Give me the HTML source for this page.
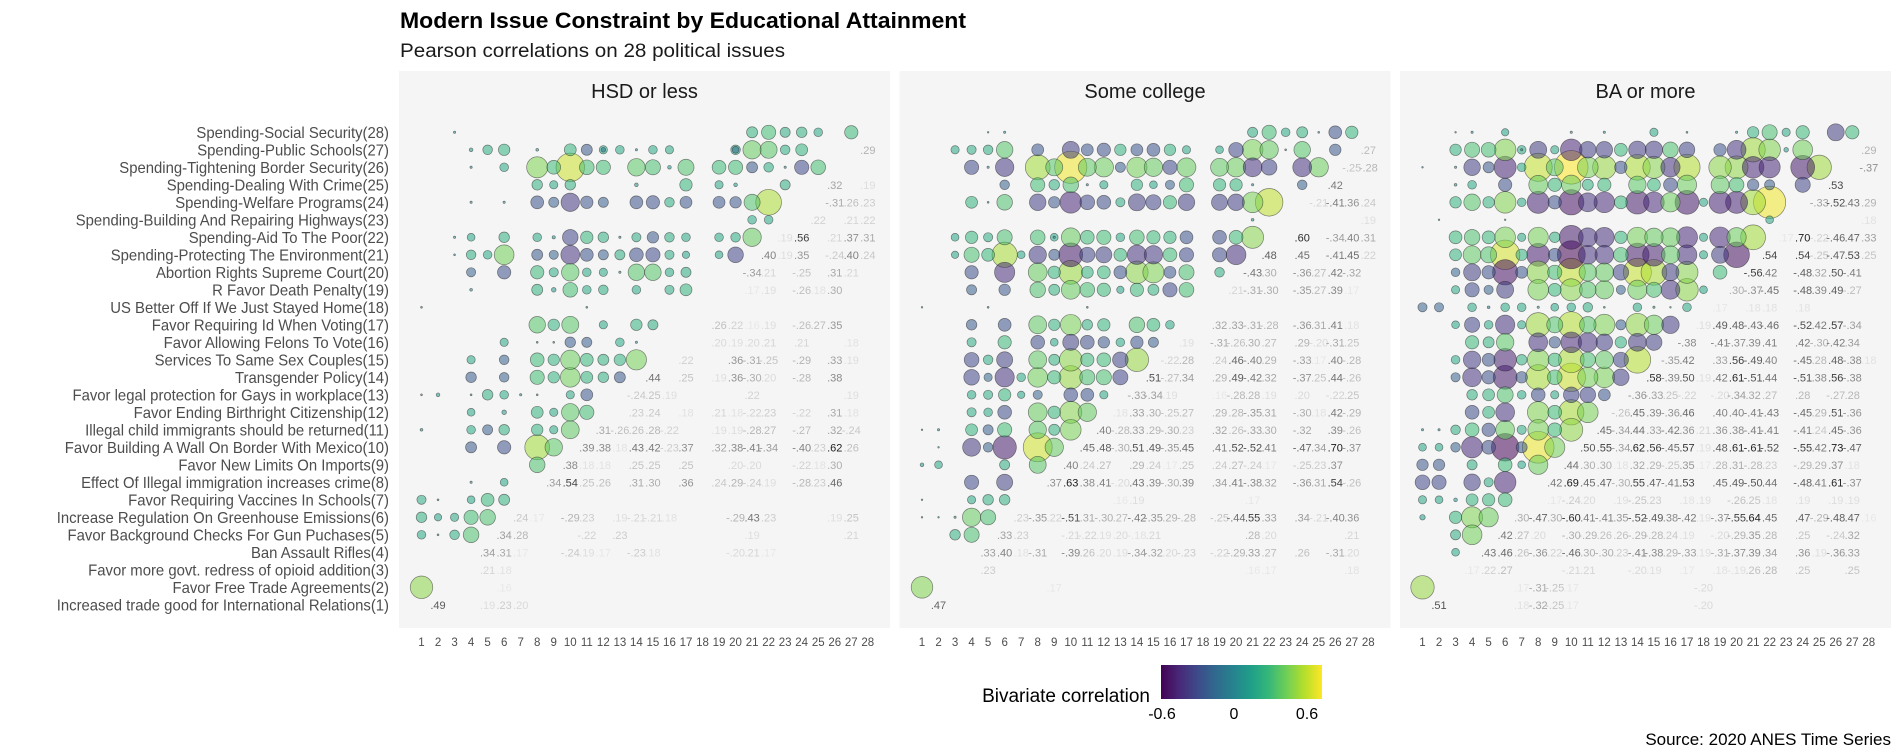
<!DOCTYPE html>
<html><head><meta charset="utf-8"><title>Modern Issue Constraint by Educational Attainment</title>
<style>
html,body{margin:0;padding:0;background:#fff;}
svg{display:block;font-family:"Liberation Sans",Arial,sans-serif;}
</style></head>
<body>
<svg id="chart" width="1896" height="752" viewBox="0 0 1896 752" xmlns="http://www.w3.org/2000/svg">
<text x="400" y="28" font-size="22" font-weight="bold" fill="#000" textLength="566" lengthAdjust="spacingAndGlyphs">Modern Issue Constraint by Educational Attainment</text>
<text x="400" y="57" font-size="19" fill="#1a1a1a" textLength="385" lengthAdjust="spacingAndGlyphs">Pearson correlations on 28 political issues</text>
<g id="labels" transform="translate(389,0) scale(0.93,1) translate(-389,0)"></g>
<g id="panels"></g>
<g>
<defs><linearGradient id="vir" x1="0" x2="1" y1="0" y2="0">
<stop offset="0" stop-color="#440154"/><stop offset="0.111" stop-color="#482878"/><stop offset="0.222" stop-color="#3e4989"/><stop offset="0.333" stop-color="#31688e"/><stop offset="0.444" stop-color="#26828e"/><stop offset="0.556" stop-color="#1f9e89"/><stop offset="0.667" stop-color="#35b779"/><stop offset="0.778" stop-color="#6ece58"/><stop offset="0.889" stop-color="#b5de2b"/><stop offset="1" stop-color="#fde725"/>
</linearGradient></defs>
<text x="1150" y="702" font-size="19" fill="#000" text-anchor="end">Bivariate correlation</text>
<rect x="1161" y="665" width="161" height="34" fill="url(#vir)"/>
<text x="1162" y="719" font-size="16" text-anchor="middle" fill="#000">-0.6</text>
<text x="1234" y="719" font-size="16" text-anchor="middle" fill="#000">0</text>
<text x="1307" y="719" font-size="16" text-anchor="middle" fill="#000">0.6</text>
</g>
<text x="1891" y="745" font-size="17" text-anchor="end" fill="#000">Source: 2020 ANES Time Series</text>
</svg>
<script>
const issueLabels = ["Increased trade good for International Relations(1)","Favor Free Trade Agreements(2)","Favor more govt. redress of opioid addition(3)","Ban Assault Rifles(4)","Favor Background Checks For Gun Puchases(5)","Increase Regulation On Greenhouse Emissions(6)","Favor Requiring Vaccines In Schools(7)","Effect Of Illegal immigration increases crime(8)","Favor New Limits On Imports(9)","Favor Building A Wall On Border With Mexico(10)","Illegal child immigrants should be returned(11)","Favor Ending Birthright Citizenship(12)","Favor legal protection for Gays in workplace(13)","Transgender Policy(14)","Services To Same Sex Couples(15)","Favor Allowing Felons To Vote(16)","Favor Requiring Id When Voting(17)","US Better Off If We Just Stayed Home(18)","R Favor Death Penalty(19)","Abortion Rights Supreme Court(20)","Spending-Protecting The Environment(21)","Spending-Aid To The Poor(22)","Spending-Building And Repairing Highways(23)","Spending-Welfare Programs(24)","Spending-Dealing With Crime(25)","Spending-Tightening Border Security(26)","Spending-Public Schools(27)","Spending-Social Security(28)"];
const panelTitles = ["HSD or less","Some college","BA or more"];
const xTicks = [1,2,3,4,5,6,7,8,9,10,11,12,13,14,15,16,17,18,19,20,21,22,23,24,25,26,27,28];
const legendTicks = [-0.6,0,0.6];

// pairs [a, b, r] with a<b: value printed at row a / col b, bubble at row b / col a
const hsdPairs = [[27,28,.29],[25,26,.32],[25,28,.19],[24,26,-.31],[24,27,.26],[24,28,.23],[23,25,.22],[23,27,.21],[23,28,.22],
[22,23,.19],[22,24,.56],[22,26,.21],[22,27,.37],[22,28,.31],[21,22,.40],[21,23,.19],[21,24,.35],[21,26,-.24],[21,27,.40],[21,28,.24],
[20,21,-.34],[20,22,.21],[20,24,-.25],[20,26,.31],[20,27,.21],[19,21,.17],[19,22,.19],[19,24,-.26],[19,25,.18],[19,26,.30],
[17,19,.26],[17,20,.22],[17,21,.16],[17,22,.19],[17,24,-.26],[17,25,.27],[17,26,.35],
[16,19,.20],[16,20,.19],[16,21,.20],[16,22,.21],[16,24,.21],[16,27,.18],
[15,17,.22],[15,20,.36],[15,21,-.31],[15,22,-.25],[15,24,-.29],[15,26,.33],[15,27,.19],
[14,15,.44],[14,17,.25],[14,19,.19],[14,20,.36],[14,21,-.30],[14,22,.20],[14,24,-.28],[14,26,.38],
[13,14,-.24],[13,15,.25],[13,16,.19],[13,21,.22],[13,27,.19],
[12,14,.23],[12,15,.24],[12,17,.18],[12,19,.21],[12,20,.18],[12,21,-.22],[12,22,.23],[12,24,-.22],[12,26,.31],[12,27,.18],
[11,12,.31],[11,13,-.26],[11,14,.26],[11,15,.28],[11,16,-.22],[11,19,.19],[11,20,.19],[11,21,-.28],[11,22,.27],[11,24,-.27],[11,26,.32],[11,27,-.24],
[10,11,.39],[10,12,.38],[10,13,.18],[10,14,.43],[10,15,.42],[10,16,-.23],[10,17,.37],[10,19,.32],[10,20,.38],[10,21,-.41],[10,22,-.34],[10,24,-.40],[10,25,.23],[10,26,.62],[10,27,.26],
[9,10,.38],[9,11,.18],[9,12,.18],[9,14,.25],[9,15,.25],[9,17,.25],[9,20,.20],[9,21,-.20],[9,24,-.22],[9,25,.18],[9,26,.30],
[8,9,.34],[8,10,.54],[8,11,.25],[8,12,.26],[8,14,.31],[8,15,.30],[8,17,.36],[8,19,.24],[8,20,.29],[8,21,-.24],[8,22,.19],[8,24,-.28],[8,25,.23],[8,26,.46],
[6,7,.24],[6,8,.17],[6,10,-.29],[6,11,.23],[6,13,.19],[6,14,-.21],[6,15,-.21],[6,16,.18],[6,20,-.29],[6,21,.43],[6,22,.23],[6,26,.19],[6,27,.25],
[5,6,.34],[5,7,.28],[5,11,-.22],[5,13,.23],[5,21,.19],[5,27,.21],
[4,5,.34],[4,6,.31],[4,7,.17],[4,10,-.24],[4,11,.19],[4,12,.17],[4,14,-.23],[4,15,.18],[4,20,-.20],[4,21,.21],[4,22,.17],
[3,5,.21],[3,6,.18],[2,6,.16],[1,2,.49],[1,5,.19],[1,6,.23],[1,7,.20],
[3,28,.05],[4,27,.08],[8,27,.06],[12,27,-.10],[14,27,.05],[20,27,-.15],[4,26,.05],[16,26,.08],[23,26,.05],[14,25,.08],[20,25,.08],
[4,24,.05],[6,24,.05],[3,22,.05],[9,22,.07],[13,22,-.05],[3,21,.04],[13,20,.05],[4,19,.06],[9,19,.10],[1,18,.04],[11,18,.04],
[8,16,.04],[9,16,.04],[14,16,.05],[1,13,.04],[2,13,.08],[4,13,.04],[7,13,.05],[8,13,.04],[6,12,.10],[1,11,.06],[4,8,.05],[2,7,.04],[2,5,.04]];

const someCollegePairs = [[27,28,.27],[26,28,-.28],[25,26,.42],[24,25,-.21],[24,26,-.41],[24,27,.36],[24,28,.24],[23,28,.19],
[22,24,.60],[22,26,-.34],[22,27,.40],[22,28,.31],[21,22,.48],[21,24,.45],[21,26,-.41],[21,27,.45],[21,28,.22],
[20,21,-.43],[20,22,.30],[20,24,-.36],[20,25,.27],[20,26,.42],[20,27,-.32],
[19,20,.21],[19,21,-.31],[19,22,-.30],[19,24,-.35],[19,25,.27],[19,26,.39],[19,27,.17],
[17,19,.32],[17,20,.33],[17,21,-.31],[17,22,-.28],[17,24,-.36],[17,25,.31],[17,26,.41],[17,27,.18],
[16,17,.19],[16,19,-.31],[16,20,-.26],[16,21,.30],[16,22,.27],[16,24,.29],[16,25,-.20],[16,26,-.31],[16,27,.25],
[15,16,-.22],[15,17,.28],[15,19,.24],[15,20,.46],[15,21,-.40],[15,22,.29],[15,24,-.33],[15,25,.17],[15,26,.40],[15,27,-.28],
[14,15,.51],[14,16,-.27],[14,17,.34],[14,19,.29],[14,20,.49],[14,21,-.42],[14,22,.32],[14,24,-.37],[14,25,.25],[14,26,.44],[14,27,-.26],
[13,14,-.33],[13,15,-.34],[13,16,.19],[13,19,.16],[13,20,-.28],[13,21,.28],[13,22,.19],[13,24,.20],[13,26,-.22],[13,27,.25],
[12,13,.18],[12,14,.33],[12,15,.30],[12,16,-.25],[12,17,.27],[12,19,.29],[12,20,.28],[12,21,-.35],[12,22,.31],[12,24,-.30],[12,25,.18],[12,26,.42],[12,27,-.29],
[11,12,.40],[11,13,-.28],[11,14,.33],[11,15,.29],[11,16,-.30],[11,17,.23],[11,19,.32],[11,20,.26],[11,21,-.33],[11,22,.30],[11,24,-.32],[11,26,.39],[11,27,-.26],
[10,11,.45],[10,12,.48],[10,13,-.30],[10,14,.51],[10,15,.49],[10,16,-.35],[10,17,.45],[10,19,.41],[10,20,.52],[10,21,-.52],[10,22,.41],[10,24,-.47],[10,25,.34],[10,26,.70],[10,27,-.37],
[9,10,.40],[9,11,.24],[9,12,.27],[9,14,.29],[9,15,.24],[9,16,.17],[9,17,.25],[9,19,.24],[9,20,.27],[9,21,-.24],[9,22,.17],[9,24,-.25],[9,25,.23],[9,26,.37],
[8,9,.37],[8,10,.63],[8,11,.38],[8,12,.41],[8,13,-.20],[8,14,.43],[8,15,.39],[8,16,-.30],[8,17,.39],[8,19,.34],[8,20,.41],[8,21,-.38],[8,22,.32],[8,24,-.36],[8,25,.31],[8,26,.54],[8,27,-.26],
[7,13,.16],[7,14,.19],[7,21,.17],
[6,7,.23],[6,8,-.35],[6,9,.22],[6,10,-.51],[6,11,.31],[6,12,-.30],[6,13,.27],[6,14,-.42],[6,15,-.35],[6,16,.29],[6,17,-.28],[6,19,-.25],[6,20,-.44],[6,21,.55],[6,22,.33],[6,24,.34],[6,25,-.21],[6,26,-.40],[6,27,.36],
[5,6,.33],[5,7,.23],[5,10,-.21],[5,11,-.22],[5,12,.19],[5,13,.20],[5,14,-.18],[5,15,.21],[5,21,.28],[5,22,.20],[5,27,.21],
[4,5,.33],[4,6,.40],[4,7,.18],[4,8,-.31],[4,10,-.39],[4,11,.26],[4,12,.20],[4,13,.19],[4,14,-.34],[4,15,-.32],[4,16,.20],[4,17,-.23],[4,19,-.22],[4,20,-.29],[4,21,.33],[4,22,.27],[4,24,.26],[4,26,-.31],[4,27,.20],
[3,5,.23],[3,21,.16],[3,22,.17],[3,27,.18],[2,9,.17],[1,2,.47],
[5,28,.03],[6,28,.05],[25,28,.04],[23,27,.04],[26,27,-.25],[5,26,.05],[11,25,.05],[21,25,.05],[5,24,.04],[21,23,.06],[9,22,.05],
[1,18,.03],[5,18,.04],[11,18,.04],[1,9,.08],[1,11,.03],[2,11,.05],[2,10,.03],[1,6,.03],[2,6,.03],[3,6,.05],[1,7,.03]];

const baPairs = [[27,28,.29],[26,28,-.37],[25,26,.53],[24,25,-.33],[24,26,-.52],[24,27,.43],[24,28,.29],[23,28,.18],
[22,23,.17],[22,24,.70],[22,25,-.22],[22,26,-.46],[22,27,.47],[22,28,.33],[21,22,.54],[21,24,.54],[21,25,-.25],[21,26,-.47],[21,27,.53],[21,28,.25],
[20,21,-.56],[20,22,.42],[20,24,-.48],[20,25,.32],[20,26,.50],[20,27,-.41],
[19,20,.30],[19,21,-.37],[19,22,-.45],[19,24,-.48],[19,25,.39],[19,26,.49],[19,27,-.27],
[18,19,.17],[18,21,.18],[18,22,.18],[18,24,.18],
[17,18,.19],[17,19,.49],[17,20,.48],[17,21,-.43],[17,22,-.46],[17,24,-.52],[17,25,.42],[17,26,.57],[17,27,-.34],
[16,17,-.38],[16,19,-.41],[16,20,-.37],[16,21,.39],[16,22,.41],[16,24,.42],[16,25,-.30],[16,26,-.42],[16,27,.34],
[15,16,-.35],[15,17,.42],[15,19,.33],[15,20,.56],[15,21,-.49],[15,22,.40],[15,24,-.45],[15,25,.28],[15,26,.48],[15,27,-.38],[15,28,.18],
[14,15,.58],[14,16,-.39],[14,17,.50],[14,18,.19],[14,19,.42],[14,20,.61],[14,21,-.51],[14,22,.44],[14,24,-.51],[14,25,.38],[14,26,.56],[14,27,-.38],
[13,14,-.36],[13,15,-.33],[13,16,.25],[13,17,-.22],[13,19,-.20],[13,20,-.34],[13,21,.32],[13,22,.27],[13,24,.28],[13,26,-.27],[13,27,.28],
[12,13,-.26],[12,14,.45],[12,15,.39],[12,16,-.36],[12,17,.46],[12,19,.40],[12,20,.40],[12,21,-.41],[12,22,-.43],[12,24,-.45],[12,25,.29],[12,26,.51],[12,27,-.36],
[11,12,.45],[11,13,-.34],[11,14,.44],[11,15,.33],[11,16,-.42],[11,17,.36],[11,18,.21],[11,19,.36],[11,20,.38],[11,21,-.41],[11,22,-.41],[11,24,-.41],[11,25,.24],[11,26,.45],[11,27,-.36],
[10,11,.50],[10,12,.55],[10,13,-.34],[10,14,.62],[10,15,.56],[10,16,-.45],[10,17,.57],[10,18,.19],[10,19,.48],[10,20,.61],[10,21,-.61],[10,22,-.52],[10,24,-.55],[10,25,.42],[10,26,.73],[10,27,-.47],
[9,10,.44],[9,11,.30],[9,12,.30],[9,13,.18],[9,14,.32],[9,15,.29],[9,16,-.25],[9,17,.35],[9,18,.17],[9,19,.28],[9,20,.31],[9,21,-.28],[9,22,.23],[9,24,-.29],[9,25,.29],[9,26,.37],[9,27,.18],
[8,9,.42],[8,10,.69],[8,11,.45],[8,12,.47],[8,13,-.30],[8,14,.55],[8,15,.47],[8,16,-.41],[8,17,.53],[8,19,.45],[8,20,.49],[8,21,-.50],[8,22,.44],[8,24,-.48],[8,25,.41],[8,26,.61],[8,27,-.37],
[7,9,.17],[7,10,-.24],[7,11,.20],[7,13,.19],[7,14,-.25],[7,15,.23],[7,17,.18],[7,18,.19],[7,20,-.26],[7,21,.25],[7,22,.18],[7,24,.19],[7,26,.19],[7,27,.19],
[6,7,.30],[6,8,-.47],[6,9,.30],[6,10,-.60],[6,11,.41],[6,12,-.41],[6,13,.35],[6,14,-.52],[6,15,-.49],[6,16,.38],[6,17,-.42],[6,18,.19],[6,19,-.37],[6,20,-.55],[6,21,.64],[6,22,.45],[6,24,.47],[6,25,-.29],[6,26,-.48],[6,27,.47],[6,28,.16],
[5,6,.42],[5,7,.27],[5,8,.20],[5,10,-.30],[5,11,-.29],[5,12,.26],[5,13,.26],[5,14,-.29],[5,15,-.28],[5,16,.24],[5,17,.19],[5,19,-.20],[5,20,-.29],[5,21,.35],[5,22,.28],[5,24,.25],[5,26,-.24],[5,27,.32],
[4,5,.43],[4,6,.46],[4,7,.26],[4,8,-.36],[4,9,.22],[4,10,-.46],[4,11,.30],[4,12,-.30],[4,13,.23],[4,14,-.41],[4,15,-.38],[4,16,.29],[4,17,-.33],[4,18,.19],[4,19,-.31],[4,20,-.37],[4,21,.39],[4,22,.34],[4,24,.36],[4,25,.19],[4,26,-.36],[4,27,.33],
[3,4,.17],[3,5,.22],[3,6,.27],[3,10,-.21],[3,11,.21],[3,14,-.20],[3,15,.19],[3,17,.17],[3,19,.18],[3,20,-.19],[3,21,.26],[3,22,.28],[3,24,.25],[3,27,.25],
[2,7,.17],[2,8,-.31],[2,9,-.25],[2,10,.17],[2,18,-.20],[1,2,.51],[1,7,.18],[1,8,-.32],[1,9,-.25],[1,10,.17],[1,18,-.20],
[3,28,.03],[4,28,.05],[10,28,.05],[12,28,.05],[17,28,.04],[20,28,.05],[7,27,.05],[23,27,.10],[1,26,.02],[3,26,.05],[3,25,.06],
[2,23,.03],[6,23,.03],[5,18,-.06],[8,18,.05],[12,18,.04],[15,18,.05],[16,18,.03],[1,11,.05],[2,11,.05],[1,6,.12],[3,7,.08]];

const panelData = [hsdPairs, someCollegePairs, baPairs];

const NS = "http://www.w3.org/2000/svg";
const PANEL_LEFT0 = 399, PANEL_STEP = 500.5, PANEL_W = 491, PANEL_TOP = 71, PANEL_BOTTOM = 628;
const COL_OFF = 22.5, COL_STEP = 16.53, ROW1_Y = 604.8, ROW_STEP = 17.5;
function xScale(p, col){ return PANEL_LEFT0 + p*PANEL_STEP + COL_OFF + (col-1)*COL_STEP; }
function yScale(row){ return ROW1_Y - (row-1)*ROW_STEP; }
function rScale(v){ return Math.max(0.8, Math.abs(v)*23); }
const VIR = ["#440154","#482878","#3e4989","#31688e","#26828e","#1f9e89","#35b779","#6ece58","#b5de2b","#fde725"];
function hex(c){ return [parseInt(c.slice(1,3),16),parseInt(c.slice(3,5),16),parseInt(c.slice(5,7),16)]; }
function colorScale(v){
  let t = (v + 0.61) / (0.73 + 0.61); t = Math.max(0, Math.min(1, t));
  const f = t*(VIR.length-1); const i = Math.min(VIR.length-2, Math.floor(f)); const u = f - i;
  const a = hex(VIR[i]), b = hex(VIR[i+1]);
  return "rgb(" + a.map((x,k)=>Math.round(x + (b[k]-x)*u)).join(",") + ")";
}
function textGray(v){
  const g = Math.round(Math.max(25, Math.min(232, 235 - (Math.abs(v)-0.16)*440)));
  return "rgb(" + g + "," + g + "," + g + ")";
}
function fmt(v){ const s = Math.abs(v).toFixed(2).replace(/^0/, ""); return (v < 0 ? "-" : "") + s; }
function mk(tag, attrs, parent){
  const el = document.createElementNS(NS, tag);
  for (const k in attrs) el.setAttribute(k, attrs[k]);
  parent.appendChild(el); return el;
}

const labelsG = document.getElementById("labels");
issueLabels.forEach((lab, i) => {
  const t = mk("text", {x: 389, y: yScale(i+1) + 5.6, "font-size": 16, fill: "#4d4d4d", "text-anchor": "end"}, labelsG);
  
  
  t.textContent = lab;
});

const panelsG = document.getElementById("panels");
panelData.forEach((pairs, p) => {
  const g = mk("g", {}, panelsG);
  
  
  const bg = mk("rect", {x: PANEL_LEFT0 + p*PANEL_STEP, y: PANEL_TOP, width: PANEL_W, height: PANEL_BOTTOM - PANEL_TOP, fill: "#f5f5f5"}, g);
  
  
  const st = mk("text", {x: PANEL_LEFT0 + p*PANEL_STEP + PANEL_W/2, y: 98, "font-size": 20, fill: "#1a1a1a", "text-anchor": "middle"}, g);
  
  
  st.textContent = panelTitles[p];
  xTicks.forEach(tk => {
    const t = mk("text", {x: xScale(p, tk), y: 646, "font-size": 11.5, fill: "#4d4d4d", "text-anchor": "middle"}, g);
    
    
    t.textContent = tk;
  });
  const sorted = pairs.slice().sort((a,b) => Math.abs(b[2]) - Math.abs(a[2]));
  sorted.forEach(([a, b, v]) => {
    const c = mk("circle", {cx: xScale(p, a), cy: yScale(b), r: rScale(v), fill: colorScale(v), "fill-opacity": 0.55, stroke: "#222", "stroke-opacity": 0.55, "stroke-width": 0.7}, g);
    
    
  });
  pairs.forEach(([a, b, v]) => {
    if (Math.abs(v) < 0.16) return;
    const t = mk("text", {x: xScale(p, b), y: yScale(a) + 4, "font-size": 11, fill: textGray(v), "text-anchor": "middle"}, g);
    
    
    t.textContent = fmt(v);
  });
});
</script>
</body></html>
